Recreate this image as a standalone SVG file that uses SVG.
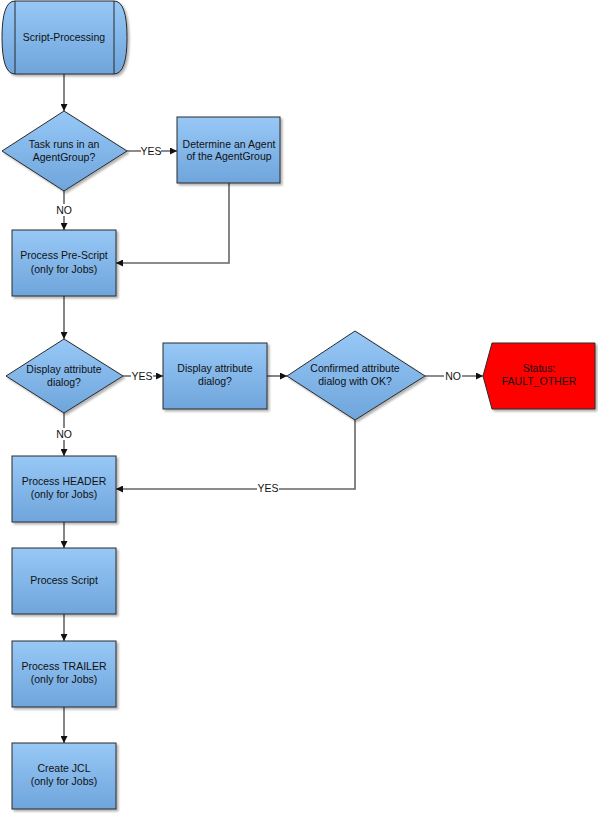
<svg xmlns="http://www.w3.org/2000/svg" width="598" height="813" viewBox="0 0 598 813">
<defs>
<linearGradient id="g" x1="0" y1="0" x2="0" y2="1"><stop offset="0" stop-color="#97c8f6"/><stop offset="1" stop-color="#6fa5dc"/></linearGradient>
<marker id="a" viewBox="0 0 10 10" refX="10" refY="5" markerWidth="7" markerHeight="7" markerUnits="userSpaceOnUse" orient="auto"><path d="M0,0L10,5L0,10z" fill="#111"/></marker>
<filter id="s" x="-10%" y="-10%" width="130%" height="130%"><feDropShadow dx="2" dy="2" stdDeviation="1" flood-color="#000" flood-opacity="0.3"/></filter>
</defs>
<style>
.n{fill:url(#g);stroke:#2a2a2a;stroke-width:1;filter:url(#s)}
.r{fill:#ff0000;stroke:#2a2a2a;stroke-width:1;filter:url(#s)}
.c{fill:none;stroke:#666;stroke-width:1.6}
.ca{fill:none;stroke:#666;stroke-width:1.6;marker-end:url(#a)}
text{font-family:"Liberation Sans",Arial,sans-serif;font-size:10.5px;fill:#111;text-anchor:middle}
.lb{fill:#111}
</style>
<rect width="598" height="813" fill="#fff"/>
<g id="connectors">
<path class="ca" d="M64,74V111"/>
<path class="ca" d="M127,151H177"/>
<path class="ca" d="M64,191V230"/>
<path class="ca" d="M229,183V263H116"/>
<path class="ca" d="M64,296V339"/>
<path class="ca" d="M123,376H163"/>
<path class="ca" d="M267,376H287"/>
<path class="ca" d="M425,376H483"/>
<path class="ca" d="M64,413V456"/>
<path class="ca" d="M355,420V489H116"/>
<path class="ca" d="M64,522V548"/>
<path class="ca" d="M64,614V641"/>
<path class="ca" d="M64,707V743"/>
<rect x="141" y="145" width="20" height="12" fill="#fff"/><text x="151" y="155">YES</text>
<rect x="55" y="204" width="18" height="12" fill="#fff"/><text x="64" y="214">NO</text>
<rect x="131" y="370" width="22" height="12" fill="#fff"/><text x="142" y="380">YES</text>
<rect x="444" y="370" width="18" height="12" fill="#fff"/><text x="453" y="380">NO</text>
<rect x="257" y="483" width="22" height="12" fill="#fff"/><text x="268" y="492">YES</text>
<rect x="55" y="428" width="18" height="12" fill="#fff"/><text x="64" y="438">NO</text>
</g>
<g id="start">
<path class="n" d="M15,1H114Q127,1 127,37.5Q127,74 114,74H15Q2,74 2,37.5Q2,1 15,1z"/>
<path d="M15,1V74M114,1V74" stroke="#2a2a2a" fill="none"/>
<text x="64" y="41">Script-Processing</text>
</g>
<g id="d1">
<path class="n" d="M64,111L127,151L64,191L2,151z"/>
<text x="64" y="148">Task runs in an</text><text x="64" y="161">AgentGroup?</text>
</g>
<g id="determine">
<rect class="n" x="177" y="117" width="103" height="66"/>
<text x="229" y="148">Determine an Agent</text><text x="229" y="160">of the AgentGroup</text>
</g>
<g id="prescript">
<rect class="n" x="12" y="230" width="104" height="66"/>
<text x="64" y="259">Process Pre-Script</text><text x="64" y="273">(only for Jobs)</text>
</g>
<g id="d2">
<path class="n" d="M64,339L123,376L64,413L6,376z"/>
<text x="64" y="373">Display attribute</text><text x="64" y="386">dialog?</text>
</g>
<g id="display">
<rect class="n" x="163" y="343" width="104" height="66"/>
<text x="215" y="372">Display attribute</text><text x="215" y="385">dialog?</text>
</g>
<g id="d3">
<path class="n" d="M355,331L425,376L355,420L287,376z"/>
<text x="355" y="372">Confirmed attribute</text><text x="355" y="385">dialog with OK?</text>
</g>
<g id="status">
<path class="r" d="M492,343H595V409H492L483,376z"/>
<text x="539" y="372">Status:</text><text x="539" y="385">FAULT_OTHER</text>
</g>
<g id="header">
<rect class="n" x="12" y="456" width="104" height="66"/>
<text x="64" y="485">Process HEADER</text><text x="64" y="498">(only for Jobs)</text>
</g>
<g id="script">
<rect class="n" x="12" y="548" width="104" height="66"/>
<text x="64" y="584">Process Script</text>
</g>
<g id="trailer">
<rect class="n" x="12" y="641" width="104" height="66"/>
<text x="64" y="670">Process TRAILER</text><text x="64" y="683">(only for Jobs)</text>
</g>
<g id="jcl">
<rect class="n" x="12" y="743" width="104" height="66"/>
<text x="64" y="772">Create JCL</text><text x="64" y="785">(only for Jobs)</text>
</g>
</svg>
